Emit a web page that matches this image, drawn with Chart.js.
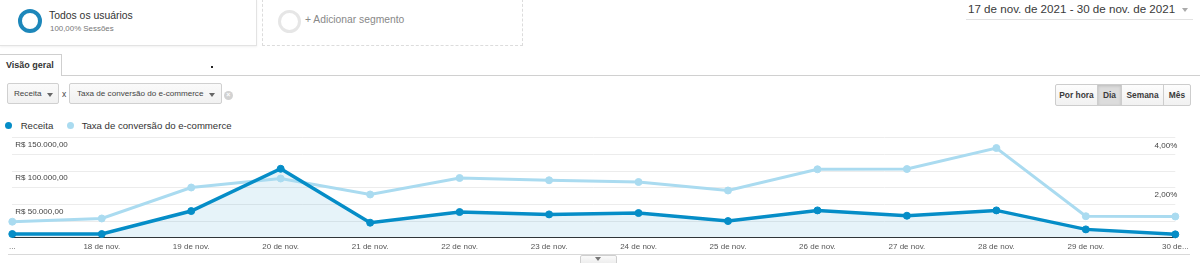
<!DOCTYPE html>
<html lang="pt-BR">
<head>
<meta charset="utf-8">
<script src="https://cdn.jsdelivr.net/npm/chart.js@4.4.0/dist/chart.umd.min.js"></script>
<style>
html,body{margin:0;padding:0;background:#fff;width:1200px;height:263px;overflow:hidden;font-family:"Liberation Sans",Arial,sans-serif;color:#333;}
.a{position:absolute;}
#seg1{left:0;top:-1px;width:256px;height:45px;border:1px solid #e3e3e3;border-left:none;box-shadow:0 1px 2px rgba(0,0,0,.06);}
#seg2{left:262px;top:-1px;width:259px;height:45px;border:1px dashed #dcdcdc;}
.ring{border-radius:50%;box-sizing:border-box;}
#date{left:968px;top:2px;font-size:11.6px;color:#3a3a3a;white-space:nowrap;}
.tri{width:0;height:0;border-left:3.5px solid transparent;border-right:3.5px solid transparent;border-top:4px solid #888;}
#tab{left:-1px;top:54px;width:61px;height:21px;border:1px solid #cfcfcf;border-bottom:none;background:#fff;}
.dd{top:83px;height:21px;border:1px solid #d0d0d0;border-radius:2px;background:linear-gradient(#fafafa,#f1f1f1);box-sizing:border-box;font-size:8.1px;color:#444;line-height:20px;}
.btn{top:84px;height:22px;border:1px solid #cdcdcd;box-sizing:border-box;font-size:8.4px;font-weight:bold;color:#3a3a3a;line-height:20px;text-align:center;background:linear-gradient(#fdfdfd,#f1f1f1);}
.leg{top:119.5px;font-size:9.6px;color:#333;white-space:nowrap;line-height:11px;}
.dot{width:7px;height:7px;border-radius:50%;top:121.5px;}
</style>
</head>
<body>
<!-- segment boxes -->
<div class="a" id="seg1"></div>
<div class="a ring" style="left:18px;top:9px;width:24px;height:24px;border:4px solid #1d87ba;"></div>
<div class="a" style="left:49px;top:9.5px;font-size:10.4px;color:#333;">Todos os usuários</div>
<div class="a" style="left:50px;top:24px;font-size:7.9px;color:#777;">100,00% Sessões</div>
<div class="a" id="seg2"></div>
<div class="a ring" style="left:278px;top:10px;width:23px;height:23px;border:3px solid #e6e6e6;"></div>
<div class="a" style="left:305px;top:13.5px;font-size:10.3px;color:#888;">+ Adicionar segmento</div>

<!-- date range -->
<div class="a" id="date">17 de nov. de 2021 - 30 de nov. de 2021</div>
<div class="a tri" style="left:1182px;top:8px;border-top-color:#aaa;"></div>
<div class="a" style="left:966px;top:19px;width:227px;height:1px;background:#e2e2e2;"></div>

<!-- tabs -->
<div class="a" style="left:60px;top:75px;width:1140px;height:1px;background:#d0d0d0;"></div>
<div class="a" id="tab"></div>
<div class="a" style="left:6px;top:59.5px;font-size:9px;font-weight:bold;color:#333;">Visão geral</div>
<div class="a" style="left:211px;top:66px;width:2px;height:2px;background:#222;"></div>

<!-- metric selectors -->
<div class="a dd" style="left:7px;width:52px;padding-left:6px;">Receita</div>
<div class="a tri" style="left:47px;top:93px;border-top-color:#666;"></div>
<div class="a" style="left:62px;top:89px;font-size:8.5px;color:#444;">x</div>
<div class="a dd" style="left:69px;width:153px;padding-left:7px;">Taxa de conversão do e-commerce</div>
<div class="a tri" style="left:209px;top:93px;border-top-color:#666;"></div>
<div class="a ring" style="left:224px;top:91px;width:9px;height:9px;background:#d2d2d2;"></div>
<div class="a" style="left:226.2px;top:90.5px;font-size:7px;color:#fff;font-weight:bold;">×</div>

<!-- period buttons -->
<div class="a btn" style="left:1055px;width:43px;border-radius:2px 0 0 2px;">Por hora</div>
<div class="a btn" style="left:1097px;width:25px;background:#dcdcdc;box-shadow:inset 0 1px 3px rgba(0,0,0,.15);">Dia</div>
<div class="a btn" style="left:1121px;width:43px;">Semana</div>
<div class="a btn" style="left:1163px;width:28px;border-radius:0 2px 2px 0;">Mês</div>

<!-- legend -->
<div class="a dot" style="left:5px;background:#058dc7;"></div>
<div class="a leg" style="left:20.7px;">Receita</div>
<div class="a dot" style="left:67.2px;background:#aadbf0;"></div>
<div class="a leg" style="left:81.7px;">Taxa de conversão do e-commerce</div>

<!-- chart -->
<div class="a" style="left:0;top:130px;width:1200px;height:133px;">
  <canvas id="c" width="1200" height="133"></canvas>
</div>
<div class="a" style="left:8px;top:254px;width:1182px;height:1px;background:#d9d9d9;"></div>
<div class="a" style="left:580px;top:255px;width:37px;height:10px;border:1px solid #cfcfcf;box-sizing:border-box;background:linear-gradient(#fafafa,#ececec);border-radius:2px;"></div>
<div class="a tri" style="left:595px;top:257px;border-top-color:#777;"></div>

<script>
// ---- data ----
const categories = ['17 de nov.','18 de nov.','19 de nov.','20 de nov.','21 de nov.','22 de nov.','23 de nov.',
                    '24 de nov.','25 de nov.','26 de nov.','27 de nov.','28 de nov.','29 de nov.','30 de nov.'];
const tickLabels = ['...','18 de nov.','19 de nov.','20 de nov.','21 de nov.','22 de nov.','23 de nov.',
                    '24 de nov.','25 de nov.','26 de nov.','27 de nov.','28 de nov.','29 de nov.','30 de...'];
const receita = [5500, 5500, 40000, 103500, 22500, 38500, 35000, 37000, 25000, 41000, 33000, 41000, 12500, 5000];
const taxaConversao = [0.64, 0.77, 2.01, 2.37, 1.73, 2.39, 2.30, 2.23, 1.89, 2.74, 2.75, 3.59, 0.86, 0.85];
const receitaTickLabels = [50000, 100000, 150000];
const taxaTickLabels = [2, 4];

function fmtBRL(v){
  const s = Math.round(v).toString().replace(/\B(?=(\d{3})+(?!\d))/g, '.');
  return 'R$ ' + s + ',00';
}
function fmtPct(v){ return v.toFixed(2).replace('.', ',') + '%'; }

const tickFont = {family: '"Liberation Sans", Arial, sans-serif', size: 8};

new Chart(document.getElementById('c'), {
  type: 'line',
  data: {
    labels: categories,
    datasets: [
      {
        label: 'Receita',
        data: receita,
        yAxisID: 'y',
        borderColor: '#058dc7',
        backgroundColor: 'rgba(5,141,199,0.10)',
        pointBackgroundColor: '#058dc7',
        pointBorderColor: '#058dc7',
        borderWidth: 3.5,
        pointRadius: 3.5,
        pointBorderWidth: 1,
        fill: 'origin',
        tension: 0,
        clip: false
      },
      {
        label: 'Taxa de conversão do e-commerce',
        data: taxaConversao,
        yAxisID: 'y1',
        borderColor: '#aadbf0',
        pointBackgroundColor: '#aadbf0',
        pointBorderColor: '#aadbf0',
        borderWidth: 3,
        pointRadius: 3.5,
        pointBorderWidth: 1,
        fill: false,
        tension: 0,
        clip: false
      }
    ]
  },
  options: {
    responsive: false,
    animation: false,
    devicePixelRatio: 1,
    layout: {padding: {left: 6.3, right: 20.7, top: 7.3, bottom: 7.7}},
    plugins: {
      legend: {display: false},
      tooltip: {enabled: false},
      filler: {drawTime: 'beforeDatasetsDraw'}
    },
    scales: {
      x: {
        offset: false,
        grid: {display: false, drawTicks: false},
        border: {display: true, color: '#333', width: 1},
        ticks: {
          font: tickFont, color: '#555', padding: 4, maxRotation: 0, autoSkip: false,
          callback: (v, i) => tickLabels[i]
        }
      },
      y: {
        position: 'left',
        min: 0, max: 150000,
        grid: {drawTicks: false, color: ctx => ctx.tick && ctx.tick.value === 0 ? 'rgba(0,0,0,0)' : '#ececec'},
        border: {display: false},
        ticks: {
          stepSize: 25000, mirror: true, padding: 3, labelOffset: 7,
          font: tickFont, color: '#444',
          callback: v => receitaTickLabels.includes(v) ? fmtBRL(v) : ''
        }
      },
      y1: {
        position: 'right',
        min: 0, max: 4,
        grid: {display: false, drawTicks: false},
        border: {display: false},
        ticks: {
          stepSize: 2, mirror: true, padding: 2, labelOffset: 7.5,
          font: tickFont, color: '#444',
          callback: v => taxaTickLabels.includes(v) ? fmtPct(v) : ''
        }
      }
    }
  }
});
</script>
</body>
</html>
